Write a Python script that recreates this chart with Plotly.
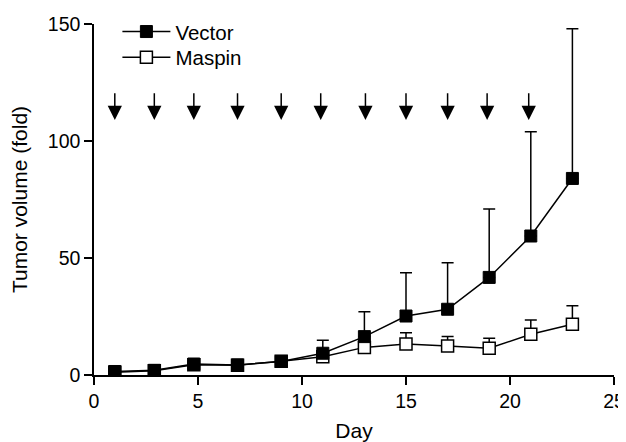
import plotly.graph_objects as go

days = [1, 2.9, 4.8, 6.9, 9, 11, 13, 15, 17, 19, 21, 23]
vector_mean = [1.5, 2.0, 4.7, 4.3, 5.8, 9.3, 16.4, 25.2, 28.1, 41.7, 59.4, 84.0]
vector_err = [0.3, 0.4, 0.6, 0.6, 0.8, 5.5, 10.6, 18.5, 19.9, 29.2, 44.6, 64.0]
maspin_mean = [1.2, 1.8, 4.4, 4.2, 5.9, 7.8, 11.8, 13.2, 12.4, 11.4, 17.4, 21.7]
maspin_err = [0.3, 0.4, 0.6, 0.6, 0.8, 1.5, 2.0, 4.9, 4.0, 4.3, 6.1, 7.9]
arrow_days = [1, 2.9, 4.8, 6.9, 9, 10.9, 13.05, 15, 17, 18.9, 20.9]
arrow_top = 121
arrow_tip = 109

FONT = "Arial, Liberation Sans, Helvetica, sans-serif"
BLACK = "#000000"

fig = go.Figure()

fig.add_trace(go.Scatter(
    x=days, y=maspin_mean, name="Maspin", mode="lines+markers",
    line=dict(color=BLACK, width=1.5),
    marker=dict(symbol="square", size=12, color="white",
                line=dict(color=BLACK, width=1.5)),
    error_y=dict(type="data", symmetric=False, array=maspin_err,
                 arrayminus=[0] * len(maspin_err), color=BLACK,
                 thickness=1.5, width=6),
    legend="legend2",
))

fig.add_trace(go.Scatter(
    x=days, y=vector_mean, name="Vector", mode="lines+markers",
    line=dict(color=BLACK, width=1.5),
    marker=dict(symbol="square", size=12, color=BLACK,
                line=dict(color=BLACK, width=1)),
    error_y=dict(type="data", symmetric=False, array=vector_err,
                 arrayminus=[0] * len(vector_err), color=BLACK,
                 thickness=1.5, width=6),
    legend="legend",
))

for d in arrow_days:
    fig.add_annotation(
        x=d, y=arrow_tip, ax=d, ay=arrow_top,
        xref="x", yref="y", axref="x", ayref="y",
        showarrow=True, arrowhead=2, arrowsize=1.9, arrowwidth=1.5,
        arrowcolor=BLACK, text="",
    )

legend_style = dict(xanchor="left", yanchor="top", bgcolor="rgba(0,0,0,0)",
                    font=dict(size=20.5, color=BLACK, family=FONT), itemwidth=48)

# The page body adds an 8px offset, so the figure is 8px smaller on each axis
fig.update_layout(
    width=618, height=434,
    margin=dict(l=86, r=12, t=16, b=67, autoexpand=False),
    paper_bgcolor="white", plot_bgcolor="white",
    font=dict(family=FONT, size=19.5, color=BLACK),
    showlegend=True,
    legend=dict(x=0.045, y=1.035, **legend_style),
    legend2=dict(x=0.045, y=0.962, **legend_style),
    xaxis=dict(range=[0, 25], tickvals=[0, 5, 10, 15, 20, 25],
               automargin=True,
               showline=True, linecolor=BLACK, linewidth=1.5,
               ticks="outside", ticklen=8, tickwidth=1.5, tickcolor=BLACK,
               tickfont=dict(size=19.5, color=BLACK),
               showgrid=False, zeroline=False,
               title=dict(text="Day", standoff=12, font=dict(size=21, color=BLACK))),
    yaxis=dict(range=[0, 150], tickvals=[0, 50, 100, 150],
               automargin=True,
               showline=True, linecolor=BLACK, linewidth=1.5,
               ticks="outside", ticklen=8, tickwidth=1.5, tickcolor=BLACK,
               tickfont=dict(size=19.5, color=BLACK),
               showgrid=False, zeroline=False,
               title=dict(text="Tumor volume (fold)", standoff=14, font=dict(size=21, color=BLACK))),
)

fig.write_html("out.html")
